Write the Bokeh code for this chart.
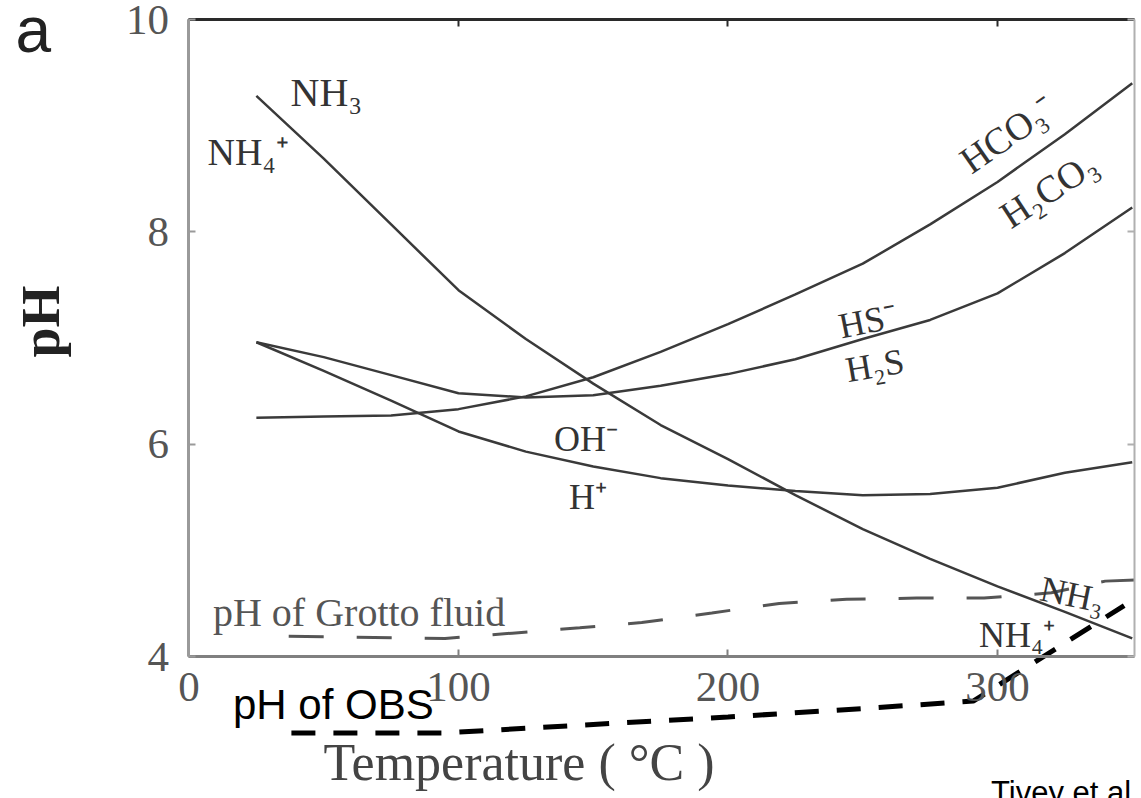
from bokeh.plotting import figure
from bokeh.models import LinearAxis, FixedTicker, Range1d, Label
from bokeh.embed import file_html
from bokeh.resources import INLINE

# ---------------- data ----------------
temperature = [25, 50, 75, 100, 125, 150, 175, 200, 225, 250, 275, 300, 325, 350]
ph_nh3 = [9.28, 8.69, 8.07, 7.45, 6.99, 6.57, 6.18, 5.86, 5.52, 5.20, 4.92, 4.66, 4.42, 4.17]
ph_hco3 = [6.25, 6.26, 6.27, 6.33, 6.45, 6.63, 6.87, 7.13, 7.41, 7.70, 8.07, 8.47, 8.92, 9.40]
ph_hs = [6.96, 6.82, 6.65, 6.48, 6.44, 6.46, 6.55, 6.66, 6.80, 6.99, 7.17, 7.42, 7.80, 8.23]
ph_oh = [6.96, 6.69, 6.41, 6.12, 5.93, 5.79, 5.68, 5.61, 5.56, 5.52, 5.53, 5.59, 5.73, 5.83]

grotto_t = [37, 95, 120, 145, 168, 194, 219, 244, 270, 295, 320, 340, 351]
grotto_ph = [4.19, 4.17, 4.22, 4.27, 4.32, 4.41, 4.50, 4.54, 4.55, 4.55, 4.60, 4.71, 4.72]

obs_t = [38, 95, 150, 200, 250, 291, 347]
obs_ph = [3.28, 3.28, 3.36, 3.43, 3.51, 3.58, 4.48]

x_ticks = [0, 100, 200, 300]
y_ticks = [4, 6, 8, 10]
x_limits = (0, 351)
y_limits = (4, 10)

SERIF = "Liberation Serif"
SANS = "Liberation Sans"

# ---------------- figure: the frame covers the whole canvas ----------------
W, H = 1141, 798
p = figure(width=W, height=H, output_backend="svg", toolbar_location=None,
           x_range=Range1d(-69.94, 353.43), y_range=Range1d(2.6625, 10.179),
           x_axis_type=None, y_axis_type=None,
           min_border_left=0, min_border_right=0, min_border_top=0,
           min_border_bottom=0)
p.outline_line_color = None
p.background_fill_color = "white"
p.border_fill_color = "white"


def style_axis(ax, color, width, standoff=18):
    ax.axis_line_color = color
    ax.axis_line_width = width
    ax.major_tick_line_color = color
    ax.major_tick_line_width = 2
    ax.major_tick_in = 7
    ax.major_tick_out = 0
    ax.minor_tick_line_color = color
    ax.minor_tick_line_width = 2
    ax.minor_tick_in = 7
    ax.minor_tick_out = 0
    ax.major_label_text_font = SERIF
    ax.major_label_text_font_size = "43px"
    ax.major_label_text_color = "#555555"
    ax.major_label_standoff = standoff


def title_axis(ax, text, size, standoff, style="normal", color="#444444"):
    ax.axis_line_color = None
    ax.major_tick_line_color = None
    ax.minor_tick_line_color = None
    ax.major_tick_in = 0
    ax.major_tick_out = 0
    ax.major_label_standoff = 0
    ax.axis_label = text
    ax.axis_label_text_font = SERIF
    ax.axis_label_text_font_size = size
    ax.axis_label_text_font_style = style
    ax.axis_label_text_color = color
    ax.axis_label_standoff = standoff


# left axis (pH) at T = 0
yax = LinearAxis(fixed_location=x_limits[0], bounds=y_limits,
                 ticker=FixedTicker(ticks=y_ticks))
style_axis(yax, "#9a9a9a", 3, standoff=20)
p.add_layout(yax, "left")

ytitle = LinearAxis(fixed_location=x_limits[0], bounds=(4.31, 10),
                    ticker=FixedTicker(ticks=[]))
title_axis(ytitle, "pH", "54px", 118, style="bold", color="#222222")
p.add_layout(ytitle, "left")

# bottom axis at pH 4
xax = LinearAxis(fixed_location=y_limits[0], bounds=x_limits,
                 ticker=FixedTicker(ticks=x_ticks))
style_axis(xax, "#808080", 3, standoff=16)
p.add_layout(xax, "below")

xtitle = LinearAxis(fixed_location=y_limits[0], bounds=(0, 245),
                    ticker=FixedTicker(ticks=[]))
title_axis(xtitle, "Temperature ( °C )", "52px", 77)
p.add_layout(xtitle, "below")

# top and right frame edges (ticks only, no labels)
top = LinearAxis(fixed_location=y_limits[1], bounds=x_limits,
                 ticker=FixedTicker(ticks=[], minor_ticks=x_ticks))
style_axis(top, "#2a2a2a", 3)
p.add_layout(top, "above")

right = LinearAxis(fixed_location=x_limits[1], bounds=y_limits,
                   ticker=FixedTicker(ticks=[], minor_ticks=y_ticks))
style_axis(right, "#b0b0b0", 2)
p.add_layout(right, "right")

# ---------------- curves ----------------
curve_color = "#3a3a3a"
p.line(temperature, ph_nh3, line_color=curve_color, line_width=2.5)
p.line(temperature, ph_hco3, line_color=curve_color, line_width=2.5)
p.line(temperature, ph_hs, line_color=curve_color, line_width=2.5)
p.line(temperature, ph_oh, line_color=curve_color, line_width=2.5)

p.line(grotto_t, grotto_ph, line_color="#555555", line_width=3, line_dash="35 33")
p.line(obs_t, obs_ph, line_color="black", line_width=5, line_dash="24 18")


# ---------------- labels ----------------
def lab(text, x, y, size, font=SERIF, color="#333333", angle=0.0, align="left"):
    p.add_layout(Label(x=x, y=y, text=text, text_font=font, text_font_size=size,
                       text_color=color, angle=angle, text_align=align,
                       text_baseline="alphabetic"))


lab("NH₃", 37.7, 9.31, "40px")
lab("NH₄⁺", 6.9, 8.75, "38px")
lab("HCO₃⁻", 287.6, 8.635, "38px", angle=0.61)
lab("H₂CO₃", 302.4, 8.125, "38px", angle=0.58)
lab("HS⁻", 241.2, 7.105, "36px", angle=0.2)
lab("H₂S", 243.8, 6.694, "36px", angle=0.17)
lab("OH⁻", 135.4, 6.053, "36px")
lab("H⁺", 141.0, 5.504, "36px")
lab("NH₃", 316.1, 4.643, "36px", angle=-0.2)
lab("NH₄⁺", 293.1, 4.198, "36px")
lab("pH of Grotto fluid", 8.9, 4.414, "40px", color="#555555")
lab("pH of OBS", 16.3, 3.548, "42px", font=SANS, color="black")
lab("a", -64.4, 9.897, "64px", font=SANS, color="#222222")
lab("Tivey et al", 297.6, 2.72, "31px", font=SANS, color="black")

open("out.html", "w").write(file_html(p, INLINE))
